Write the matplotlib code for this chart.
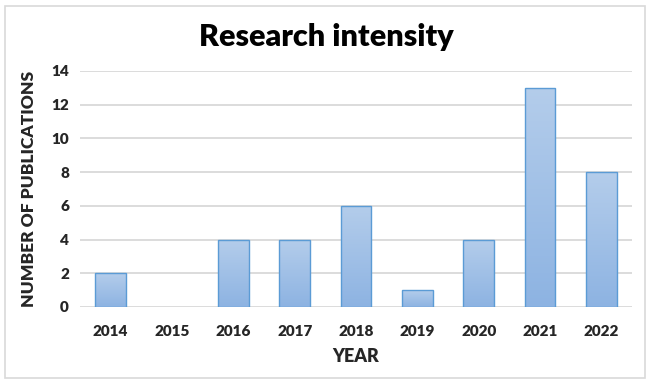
import matplotlib
matplotlib.use("Agg")
import matplotlib.pyplot as plt
import numpy as np
from matplotlib.patches import Rectangle
from matplotlib.colors import LinearSegmentedColormap

years = ["2014", "2015", "2016", "2017", "2018", "2019", "2020", "2021", "2022"]
publications = [2, 0, 4, 4, 6, 1, 4, 13, 8]

plt.rcParams['font.family'] = ['Lato', 'DejaVu Sans']

fig = plt.figure(figsize=(6.53, 3.84), dpi=100)
fig.patch.set_facecolor("white")

# outer border
fig.add_artist(Rectangle((5/653, 6/384), 640/653, 372/384, transform=fig.transFigure,
                         fill=False, edgecolor="#D9D9D9", linewidth=1.2))

ax = fig.add_axes([80/653, 1-307/384, 552/653, 236/384])
x = np.arange(len(years))
bars = ax.bar(x, publications, width=0.5, facecolor="none", edgecolor="#5B9BD5",
              linewidth=1.0, zorder=3)

grad = np.linspace(0, 1, 256).reshape(-1, 1)
cmap = LinearSegmentedColormap.from_list("g", ["#8DB3E2", "#B4CDEB"])
for b in bars:
    h = b.get_height()
    if h <= 0:
        b.set_visible(False)
        continue
    x0 = b.get_x(); w = b.get_width()
    im = ax.imshow(grad, cmap=cmap, origin="lower", aspect="auto",
                   extent=[x0, x0 + w, 0, h], zorder=2)
    im.set_clip_path(b)

ax.set_xlim(-0.5, 8.5)
ax.set_ylim(0, 14)
ax.set_yticks(range(0, 15, 2))
ax.set_xticks(x)
ax.set_xticklabels(years)
ax.grid(axis="y", color="#D9D9D9", linewidth=1.3, zorder=0)
ax.set_axisbelow(True)
for s in ax.spines.values():
    s.set_visible(False)
ax.tick_params(length=0, labelsize=11)
ax.tick_params(axis="x", pad=13)
ax.tick_params(axis="y", pad=8)
for lab in ax.get_xticklabels() + ax.get_yticklabels():
    lab.set_fontweight("heavy")
    lab.set_color("#262626")

ax.set_xlabel("YEAR", fontsize=13, fontweight="heavy", color="#262626", labelpad=7)
ax.set_ylabel("NUMBER OF PUBLICATIONS", fontsize=12.5, fontweight="heavy", color="#262626", labelpad=10)

fig.text(0.5, 1-37/384, "Research intensity", ha="center", va="center",
         fontsize=22, fontweight="heavy", color="black")

fig.savefig("out.png", dpi=100)
